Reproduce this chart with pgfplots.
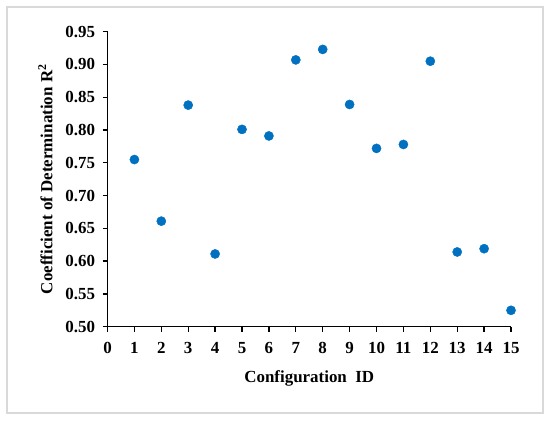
\documentclass[border=0pt]{standalone}
\usepackage{pgfplots}
\pgfplotsset{compat=1.18}
\usepackage{fontspec}
\setmainfont{Liberation Serif}
\definecolor{ptblue}{RGB}{0,112,192}
\definecolor{framegray}{RGB}{217,217,217}
\begin{document}
\begin{tikzpicture}[x=1bp,y=1bp]
\path[use as bounding box] (0,0) rectangle (550,420);
\draw[framegray, line width=1.2bp] (7,7) rectangle (543,413);
\begin{axis}[
  at={(107.5bp,93.3bp)}, anchor=south west,
  scale only axis, width=403.5bp, height=295bp,
  xmin=0, xmax=15, ymin=0.5, ymax=0.95,
  axis lines*=left,
  axis line style={line width=1.5bp, black},
  tick align=outside,
  tick style={line width=1.3bp, black},
  major tick length=5bp,
  xtick={0,1,2,3,4,5,6,7,8,9,10,11,12,13,14,15},
  ytick={0.50,0.55,0.60,0.65,0.70,0.75,0.80,0.85,0.90,0.95},
  /pgf/number format/assume math mode=true,
  yticklabel style={/pgf/number format/fixed, /pgf/number format/fixed zerofill, /pgf/number format/precision=2, xshift=-4bp},
  ticklabel style={font=\bfseries\fontsize{17}{19}\selectfont},
  xticklabel style={yshift=-7bp},
  xlabel={Configuration\ \ ID},
  ylabel={Coefficient of Determination R\textsuperscript{2}},
  label style={font=\bfseries\fontsize{17}{19}\selectfont},
  xlabel style={at={(axis description cs:0.5,0)}, anchor=center, yshift=-52bp},
  ylabel style={xshift=0bp, yshift=6bp},
  clip=false,
]
\addplot[only marks, mark=*, mark size=4.6bp, color=ptblue, mark options={fill=ptblue, draw=ptblue}] coordinates {
(1,0.755) (2,0.661) (3,0.838) (4,0.611) (5,0.801) (6,0.791) (7,0.907) (8,0.923)
(9,0.839) (10,0.772) (11,0.778) (12,0.905) (13,0.614) (14,0.619) (15,0.525)
};
\end{axis}
\end{tikzpicture}
\end{document}
